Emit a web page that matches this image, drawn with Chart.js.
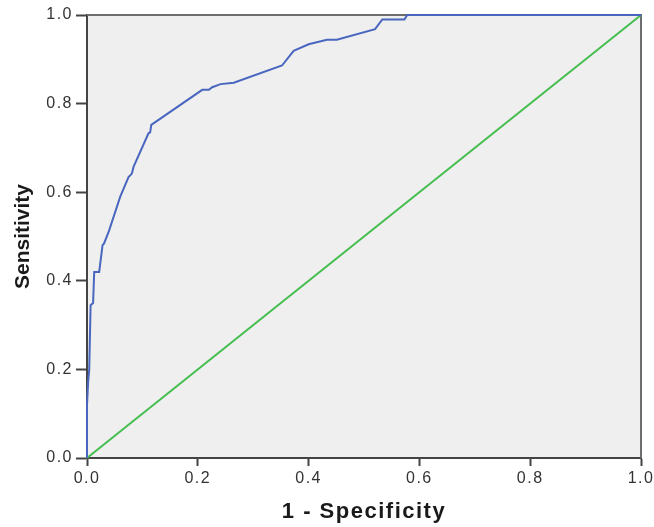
<!DOCTYPE html>
<html>
<head>
<meta charset="utf-8">
<script src="https://cdn.jsdelivr.net/npm/chart.js@4/dist/chart.umd.min.js"></script>
<style>
  html, body { margin: 0; padding: 0; background: #ffffff; }
  #wrap { width: 654px; height: 527px; }
</style>
</head>
<body>
<div id="wrap"><canvas id="roc" width="654" height="527"></canvas></div>
<script>
// ROC curve: 1 - specificity (false positive rate) against sensitivity
const fpr = [0, 0, 0.002, 0.004, 0.0065, 0.011, 0.013, 0.022, 0.028, 0.031, 0.040, 0.060, 0.075, 0.081, 0.084,
             0.111, 0.114, 0.116, 0.208, 0.220, 0.226, 0.241, 0.265, 0.352, 0.373, 0.400, 0.433, 0.451,
             0.520, 0.533, 0.573, 0.578, 1.0];
const tpr = [0, 0.12, 0.17, 0.20, 0.345, 0.35, 0.42, 0.42, 0.48, 0.485, 0.514, 0.59, 0.634, 0.642, 0.657,
             0.733, 0.735, 0.752, 0.831, 0.831, 0.837, 0.844, 0.847, 0.886, 0.919, 0.934, 0.944, 0.944,
             0.968, 0.990, 0.990, 1.0, 1.0];

// Reference (chance) diagonal
const diagX = [0, 1];
const diagY = [0, 1];

// Axis tick values, shared by both axes
const tickValues = [0, 0.2, 0.4, 0.6, 0.8, 1.0];

const xTitle = '1 - Specificity';
const yTitle = 'Sensitivity';

const FONT = '"Liberation Sans", Arial, Helvetica, sans-serif';
const SPACING = '1.5px';

const toPoints = (xs, ys) => xs.map((x, i) => ({ x: x, y: ys[i] }));

// Panel background, frame and wide-set lettering
const panel = {
  id: 'panel',
  beforeLayout(chart) {
    chart.ctx.letterSpacing = SPACING;
  },
  afterLayout(chart) {
    const ys = chart.scales.y;
    if (ys && !ys.__plainTitle) {
      const orig = ys.drawTitle;
      ys.drawTitle = function () {
        const c = this.ctx;
        const prev = c.letterSpacing;
        c.letterSpacing = '0px';
        orig.call(this);
        c.letterSpacing = prev;
      };
      ys.__plainTitle = true;
    }
  },
  beforeDraw(chart) {
    const { ctx, chartArea: a } = chart;
    ctx.letterSpacing = SPACING;
    ctx.save();
    ctx.fillStyle = '#efefef';
    ctx.fillRect(a.left, a.top, a.right - a.left, a.bottom - a.top);
    ctx.restore();
  },
  beforeDatasetsDraw(chart) {
    const { ctx, chartArea: a } = chart;
    ctx.save();
    ctx.strokeStyle = '#6e6e6e';
    ctx.lineWidth = 2;
    ctx.beginPath();
    ctx.moveTo(a.left, a.top);
    ctx.lineTo(a.right, a.top);
    ctx.lineTo(a.right, a.bottom);
    ctx.stroke();
    ctx.restore();
  }
};

const axisCommon = (titleText, titleFont, titlePadding, tickLen, tickPad) => ({
  type: 'linear',
  min: 0,
  max: 1,
  afterBuildTicks: (scale) => { scale.ticks = tickValues.map(v => ({ value: v })); },
  ticks: {
    color: '#333333',
    font: { family: FONT, size: 16 },
    padding: tickPad,
    callback: (v) => Number(v).toFixed(1)
  },
  grid: {
    display: true,
    drawOnChartArea: false,
    drawTicks: true,
    tickLength: tickLen,
    tickWidth: 2,
    tickColor: '#444444'
  },
  border: { display: true, color: '#444444', width: 2 },
  title: {
    display: true,
    text: titleText,
    color: '#1a1a1a',
    font: titleFont,
    padding: titlePadding
  }
});

const xAxis = axisCommon(xTitle, { family: FONT, size: 22, weight: 'bold' }, { top: 0, bottom: 2 }, 8, 3);
xAxis.afterFit = (scale) => {
  scale.height = 69;
  scale.paddingLeft = 0;
  scale.paddingRight = 0;
};

const yAxis = axisCommon(yTitle, { family: FONT, size: 21, weight: 'bold' }, { top: 11, bottom: 0 }, 11, 3);
yAxis.afterFit = (scale) => {
  scale.width = 87;
  scale.paddingTop = 0;
  scale.paddingBottom = 0;
};

new Chart(document.getElementById('roc'), {
  type: 'scatter',
  data: {
    datasets: [
      {
        label: 'ROC',
        data: toPoints(fpr, tpr),
        showLine: true,
        borderColor: '#4a67c0',
        borderWidth: 2,
        pointRadius: 0,
        tension: 0,
        clip: 4,
        order: 1
      },
      {
        label: 'Reference',
        data: toPoints(diagX, diagY),
        showLine: true,
        borderColor: '#45be4f',
        borderWidth: 2,
        pointRadius: 0,
        tension: 0,
        clip: 4,
        order: 2
      }
    ]
  },
  options: {
    responsive: false,
    animation: false,
    devicePixelRatio: 1,
    layout: { padding: { top: 15, right: 13, left: 0, bottom: 0 } },
    plugins: {
      legend: { display: false },
      tooltip: { enabled: false }
    },
    scales: { x: xAxis, y: yAxis }
  },
  plugins: [panel]
});
</script>
</body>
</html>
